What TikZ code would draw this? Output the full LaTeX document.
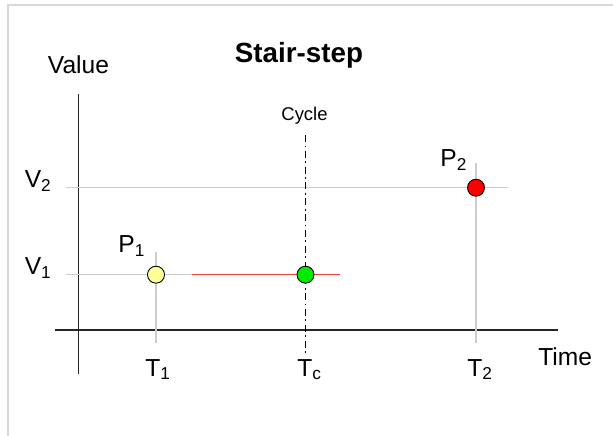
\documentclass[tikz,border=0pt]{standalone}
\usepackage{xcolor}
\usepackage{fontspec}
\setmainfont{Liberation Sans}
\usepackage{tikz}

\definecolor{gridgray}{RGB}{205,205,205}
\definecolor{framegray}{RGB}{215,215,215}
\definecolor{stepred}{RGB}{250,60,60}
\definecolor{dotyellow}{RGB}{255,255,150}
\definecolor{dotgreen}{RGB}{0,235,0}

\tikzset{
  guide/.style={draw=gridgray, line width=0.9pt},
  axis/.style={draw=black!85, line width=0.9pt},
  dot/.style={circle, draw=black, line width=0.5pt, minimum size=0.34cm, inner sep=0pt},
  lbl/.style={font=\fontsize{14}{16}\selectfont, inner sep=0pt}
}

\begin{document}
\begin{tikzpicture}[x=0.02cm, y=-0.02cm]
\useasboundingbox (0,0) rectangle (613,436);

% Frame
\draw[framegray, line width=1.1pt] (8,436) -- (8,5) -- (613,5);

% Title
\node[font=\fontsize{15.8}{18}\selectfont\bfseries, anchor=base, inner sep=0pt] (title) at (299,62.3) {Stair-step};

% Axes
\coordinate (ytop) at (78.5,94);
\coordinate (ybot) at (78.5,374);
\coordinate (xleft) at (55,330);
\coordinate (xright) at (558,330);
\draw[axis] (ytop) -- (ybot);
\draw[axis] (xleft) -- (xright);
\node[lbl, anchor=base] (value) at (78.5,73.3) {Value};
\node[lbl, anchor=base west] (time) at (538,365) {Time};

% Guide lines
\coordinate (v2start) at (66,187.7);
\coordinate (v2end) at (508,187.7);
\coordinate (v1start) at (66,274.7);
\coordinate (stepstart) at (191.5,274.7);
\coordinate (stepend) at (340,274.7);
\coordinate (t1top) at (156,252);
\coordinate (t1bot) at (156,343);
\coordinate (t2top) at (476,163);
\coordinate (t2bot) at (476,343);
\draw[guide] (v2start) -- (v2end);
\draw[guide] (v1start) -- (stepstart);
\draw[guide] (t1top) -- (t1bot);
\draw[guide] (t2top) -- (t2bot);

% Step
\draw[stepred, line width=0.7pt] (stepstart) -- (stepend);

% Cycle
\coordinate (cyctop) at (305.5,135);
\coordinate (cycbot) at (305.5,353);
\draw[black, line width=0.6pt, dash pattern=on 4pt off 2pt on 1pt off 2pt] (cyctop) -- (cycbot);
\node[font=\fontsize{10.5}{12}\selectfont, anchor=base, inner sep=0pt] (cycle) at (304.5,120.7) {Cycle};

% Points
\node[dot, fill=dotyellow] (p1) at (156,274.7) {};
\node[dot, fill=dotgreen] (pc) at (305.5,274.7) {};
\node[dot, fill=red] (p2) at (476,187.7) {};

% Labels
\node[lbl, anchor=base east] (v2) at (52,187.3) {V\textsubscript{2}};
\node[lbl, anchor=base east] (v1) at (52,275) {V\textsubscript{1}};
\node[lbl, anchor=base west] (p1lbl) at (118,252.7) {P\textsubscript{1}};
\node[lbl, anchor=base west] (p2lbl) at (440,166.7) {P\textsubscript{2}};
\node[lbl, anchor=base west] (t1) at (145,376) {T\textsubscript{1}};
\node[lbl, anchor=base west] (tc) at (297,376) {T\textsubscript{c}};
\node[lbl, anchor=base west] (t2) at (467,376) {T\textsubscript{2}};
\end{tikzpicture}
\end{document}
